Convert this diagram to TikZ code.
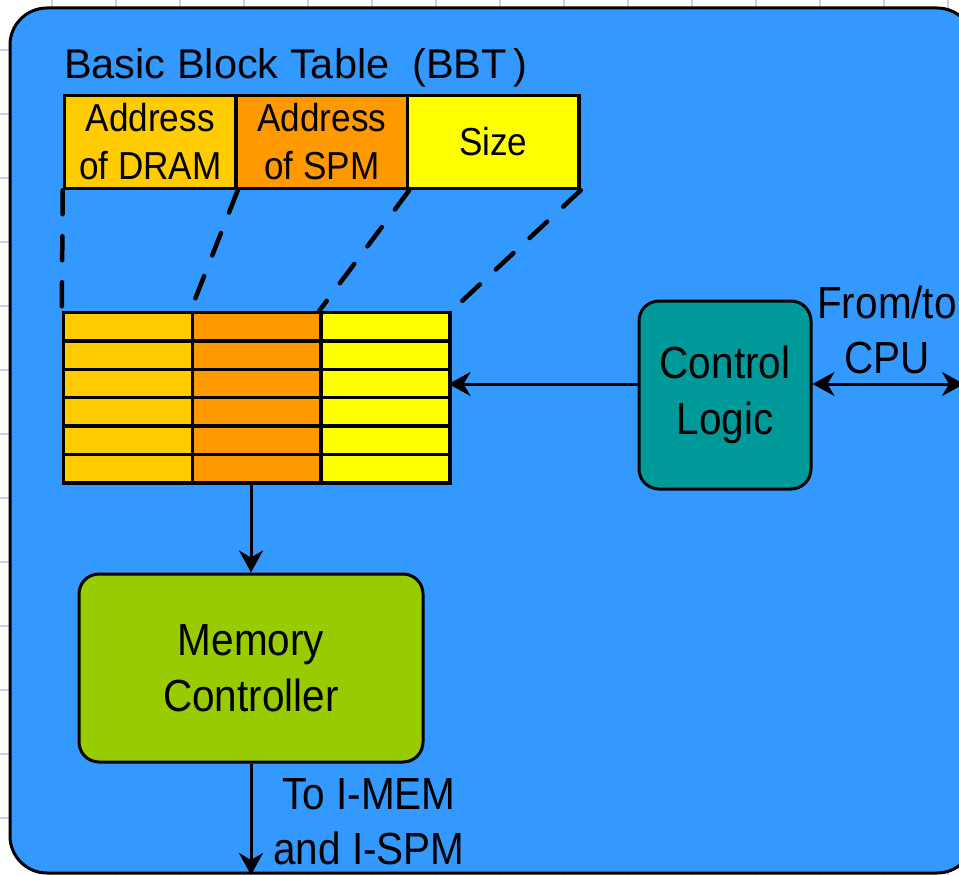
\documentclass[tikz,border=0pt]{standalone}
\usepackage{fontspec}
\setmainfont{Liberation Sans}
\newfontfamily\tallfont{Liberation Sans}[FakeStretch=0.9]
\usetikzlibrary{arrows.meta,calc}
\definecolor{bgblue}{HTML}{3399FF}
\definecolor{gridc}{HTML}{C8D0F8}
\definecolor{cgold}{HTML}{FFCC00}
\definecolor{corange}{HTML}{FF9900}
\definecolor{cyellow}{HTML}{FFFF00}
\definecolor{cteal}{HTML}{009999}
\definecolor{cgreen}{HTML}{99CC00}
\tikzset{
  hcell/.style={draw, line width=3.5pt, inner sep=0pt, minimum width=171.5pt, minimum height=93pt, anchor=north west, align=center, font=\tallfont\fontsize{39}{48}\selectfont},
  tcell/.style={draw, line width=3.5pt, inner sep=0pt, minimum width=128.8pt, minimum height=28.4pt, anchor=north west},
  rbox/.style={draw, line width=3pt, rounded corners=20pt, inner sep=0pt, align=center, font=\tallfont\fontsize{45}{56}\selectfont},
  lbl/.style={align=center, inner sep=0pt, font=\tallfont\fontsize{45}{55}\selectfont},
  dashline/.style={line width=4.5pt, dash pattern=on 24pt off 22pt, line cap=round},
  arr/.style={line width=3pt, -{Stealth[length=22pt,width=24pt,inset=7pt]}},
  darr/.style={line width=3pt, {Stealth[length=22pt,width=24pt,inset=7pt]}-{Stealth[length=22pt,width=24pt,inset=7pt]}}
}
\begin{document}
\begin{tikzpicture}[x=1pt,y=-1pt]
\useasboundingbox (0,0) rectangle (959,875);
\clip (0,0) rectangle (959,875);
\fill[white] (0,0) rectangle (959,875);
\foreach \x in {52,116,...,948} \draw[gridc, line width=1.5pt] (\x,0) -- (\x,875);
\foreach \y in {50,114,...,818} \draw[gridc, line width=1.5pt] (0,\y) -- (959,\y);
\draw[fill=bgblue, line width=3pt, rounded corners=37pt] (10,8) rectangle (974,873);

\node[anchor=base west, inner sep=0pt, font=\fontsize{41.5}{48}\selectfont] (title) at (64,79) {Basic Block Table\ \ (BBT\,)};

\node[hcell, fill=cgold] (hdram) at (62.75,93.75) {Address\\of DRAM};
\node[hcell, fill=corange] (hspm) at (234.25,93.75) {Address\\of SPM};
\node[hcell, fill=cyellow] (hsize) at (405.75,93.75) {Size};

\foreach \r in {1,...,6}{
  \foreach \c/\col in {1/cgold,2/corange,3/cyellow}{
    \node[tcell, fill=\col] (c-\r-\c) at ({61.75+128.8*(\c-1)},{310.75+28.4*(\r-1)}) {};
  }
}
\node[inner sep=0pt, minimum width=386.4pt, minimum height=170.4pt, anchor=north west] (bbt) at (61.75,310.75) {};

\draw[dashline] (hdram.south west) -- (c-1-1.north west);
\draw[dashline] (hdram.south east) -- (c-1-2.north west);
\draw[dashline] (hspm.south east) -- (c-1-3.north west);
\draw[dashline] (hsize.south east) -- (c-1-3.north east);

\node[rbox, fill=cteal, minimum width=172pt, minimum height=188pt] (ctrl) at (725,395) {Control\\Logic};
\node[rbox, fill=cgreen, minimum width=344pt, minimum height=188pt] (mem) at (251,668) {Memory\\Controller};

\node[lbl] (cpu) at (887,330) {From/to\\CPU};
\node[lbl] (imem) at (369,822) {To I-MEM\\and I-SPM};

\coordinate (cpuend) at (964,384);
\coordinate (memout) at (251,875);

\draw[arr] (ctrl.west |- 0,384) -- (bbt.east |- 0,384);
\draw[darr] (ctrl.east |- 0,384) -- (cpuend);
\draw[arr] (mem.north |- bbt.south) -- (mem.north);
\draw[arr] (mem.south) -- (memout);
\end{tikzpicture}
\end{document}
